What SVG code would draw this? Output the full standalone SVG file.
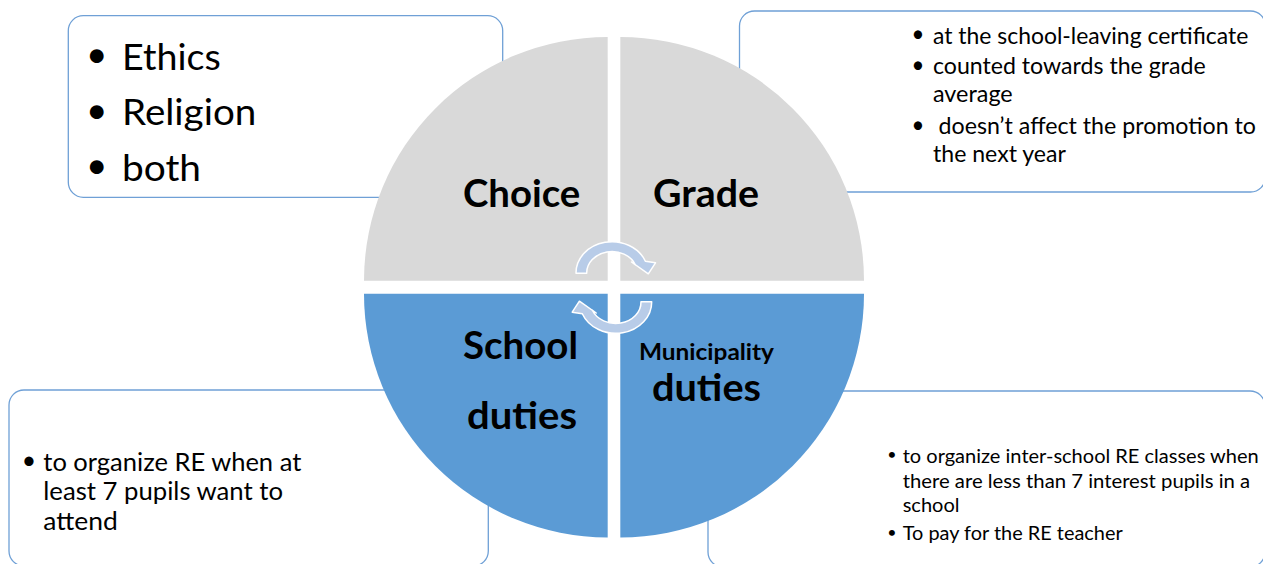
<svg xmlns="http://www.w3.org/2000/svg" width="1263" height="564" viewBox="0 0 1263 564">
  <style>
    .box { fill: #ffffff; stroke: #6fa0d6; stroke-width: 1.3; }
    .q-top { fill: #d9d9d9; }
    .q-bottom { fill: #5b9bd5; }
    .cycle { fill: #b8cce8; stroke: #ffffff; stroke-width: 1.5; stroke-linejoin: round; }
    text { font-family: "Lato", "Liberation Sans", sans-serif; fill: #000000; }
    .head { font-weight: bold; font-size: 38px; }
    .head-sm { font-weight: bold; font-size: 23.4px; }
    .t-big { font-size: 37px; }
    .t-tr { font-size: 22.2px; }
    .t-bl { font-size: 24.8px; }
    .t-br { font-size: 19.5px; }
    .bullet { text-anchor: middle; }
    .bullet-sm { text-anchor: middle; font-size: 16px; }
  </style>

  <!-- Text panels sit behind the circle -->
  <g id="panel-choice-options">
    <rect class="box" x="68.3" y="15.7" width="434.4" height="181.6" rx="15"/>
    <text class="t-big bullet" x="96.7" y="67">•</text>
    <text class="t-big bullet" x="96.7" y="123">•</text>
    <text class="t-big bullet" x="96.7" y="178">•</text>
    <text class="t-big" x="122" y="69.5" textLength="98.7" lengthAdjust="spacingAndGlyphs">Ethics</text>
    <text class="t-big" x="122" y="125" textLength="134.3" lengthAdjust="spacingAndGlyphs">Religion</text>
    <text class="t-big" x="122" y="180.5" textLength="79" lengthAdjust="spacingAndGlyphs">both</text>
  </g>

  <g id="panel-grade-notes">
    <rect class="box" x="739.5" y="11" width="526" height="181" rx="15"/>
    <text class="t-tr bullet" x="918" y="42">•</text>
    <text class="t-tr bullet" x="918" y="72.5">•</text>
    <text class="t-tr bullet" x="918" y="132.5">•</text>
    <text class="t-tr" x="933" y="43.5" textLength="315.3" lengthAdjust="spacingAndGlyphs">at the school-leaving certificate</text>
    <text class="t-tr" x="933" y="74" textLength="272.6" lengthAdjust="spacingAndGlyphs">counted towards the grade</text>
    <text class="t-tr" x="933" y="101.5" textLength="79.7" lengthAdjust="spacingAndGlyphs">average</text>
    <text class="t-tr" x="938.6" y="134" textLength="317.4" lengthAdjust="spacingAndGlyphs">doesn’t affect the promotion to</text>
    <text class="t-tr" x="933" y="161.5" textLength="132.9" lengthAdjust="spacingAndGlyphs">the next year</text>
  </g>

  <g id="panel-school-duties">
    <rect class="box" x="9" y="390" width="479.3" height="176" rx="15"/>
    <text class="t-bl bullet" x="29" y="469">•</text>
    <text class="t-bl" x="43.3" y="470.5" textLength="258" lengthAdjust="spacingAndGlyphs">to organize RE when at</text>
    <text class="t-bl" x="43.3" y="500" textLength="239.7" lengthAdjust="spacingAndGlyphs">least 7 pupils want to</text>
    <text class="t-bl" x="43.3" y="529.5" textLength="74.4" lengthAdjust="spacingAndGlyphs">attend</text>
  </g>

  <g id="panel-municipality-duties">
    <rect class="box" x="708" y="391" width="557" height="176" rx="15"/>
    <text class="bullet-sm" x="892" y="459.5">•</text>
    <text class="bullet-sm" x="892" y="537.5">•</text>
    <text class="t-br" x="902.7" y="463" textLength="356" lengthAdjust="spacingAndGlyphs">to organize inter-school RE classes when</text>
    <text class="t-br" x="902.7" y="488" textLength="347.5" lengthAdjust="spacingAndGlyphs">there are less than 7 interest pupils in a</text>
    <text class="t-br" x="902.7" y="512" textLength="56.8" lengthAdjust="spacingAndGlyphs">school</text>
    <text class="t-br" x="902.7" y="540" textLength="220" lengthAdjust="spacingAndGlyphs">To pay for the RE teacher</text>
  </g>

  <!-- Four quadrants of the central circle, R = 243.7 -->
  <g id="quadrant-choice">
    <path class="q-top" d="M607.7 280.7 H364 A243.7 243.7 0 0 1 607.7 37 Z"/>
    <text class="head" x="463" y="206.7" textLength="117.3" lengthAdjust="spacingAndGlyphs">Choice</text>
  </g>
  <g id="quadrant-grade">
    <path class="q-top" d="M620.3 280.7 V37 A243.7 243.7 0 0 1 864 280.7 Z"/>
    <text class="head" x="653" y="206.7" textLength="106" lengthAdjust="spacingAndGlyphs">Grade</text>
  </g>
  <g id="quadrant-school-duties">
    <path class="q-bottom" d="M607.7 293.7 V537.4 A243.7 243.7 0 0 1 364 293.7 Z"/>
    <text class="head" x="463" y="359" textLength="115" lengthAdjust="spacingAndGlyphs">School</text>
    <text class="head" x="467" y="429" textLength="110" lengthAdjust="spacingAndGlyphs">duties</text>
  </g>
  <g id="quadrant-municipality-duties">
    <path class="q-bottom" d="M620.3 293.7 H864 A243.7 243.7 0 0 1 620.3 537.4 Z"/>
    <text class="head-sm" x="639" y="360" textLength="135" lengthAdjust="spacingAndGlyphs">Municipality</text>
    <text class="head" x="652" y="401" textLength="109" lengthAdjust="spacingAndGlyphs">duties</text>
  </g>

  <!-- Clockwise cycle arrows across the centre -->
  <g id="connectors">
    <defs>
      <path id="cycle-arrow" d="M576 273.3 A36 31.3 0 0 1 645.4 261.3 L655.5 262.8 L648.3 273.8 L631.5 262 L635.5 265 A25.3 21.3 0 0 0 586.7 273.3 Z"/>
    </defs>
    <use href="#cycle-arrow" class="cycle"/>
    <use href="#cycle-arrow" class="cycle" transform="rotate(180 613.85 287.5)"/>
  </g>
</svg>
